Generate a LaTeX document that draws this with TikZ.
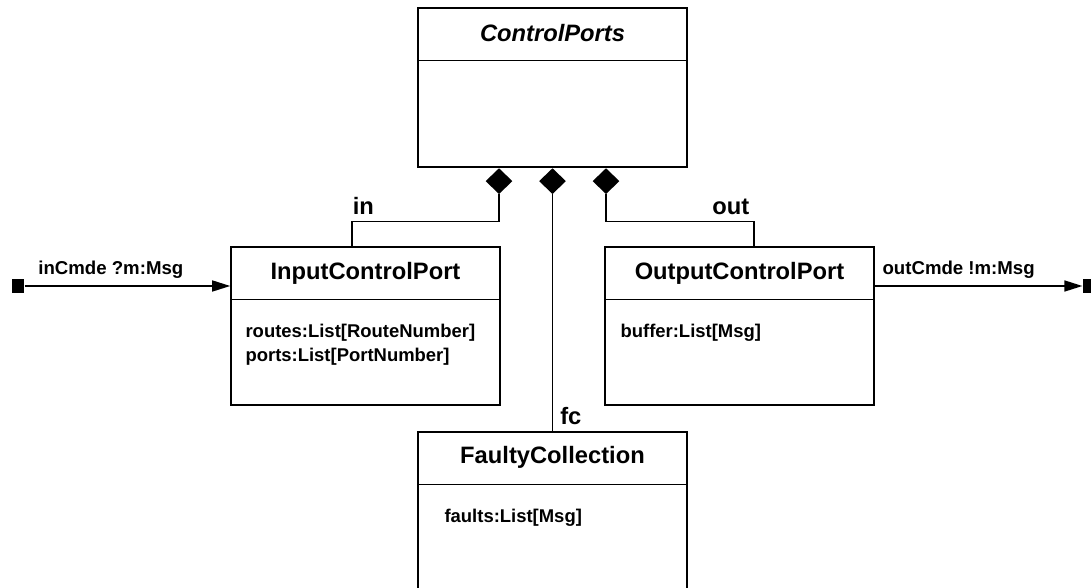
\documentclass[tikz,border=0pt]{standalone}
\usepackage{fontspec}
\setmainfont{Liberation Sans}
\usepackage{tikz}
\usetikzlibrary{arrows.meta,calc,shapes.geometric}

\begin{document}
\begin{tikzpicture}[
  cls/.style={draw, line width=0.9pt, minimum width=5.38cm, inner sep=0pt},
  ttl/.style={font=\fontsize{13.5}{16}\selectfont\bfseries, anchor=base, inner sep=0pt},
  attr/.style={font=\fontsize{10.5}{13.5}\selectfont\bfseries, align=left, anchor=north west, inner sep=0pt},
  role/.style={font=\fontsize{13.5}{16}\selectfont\bfseries, inner sep=0pt},
  msg/.style={font=\fontsize{10.6}{13}\selectfont\bfseries, inner sep=0pt},
  dmd/.style={diamond, fill=black, minimum width=0.54cm, minimum height=0.52cm, inner sep=0pt, anchor=north},
  port/.style={fill=black, minimum width=0.25cm, minimum height=0.28cm, inner sep=0pt},
  assoc/.style={line width=0.9pt},
  flow/.style={line width=0.9pt, -{Triangle[length=0.36cm, width=0.22cm]}},
]
\useasboundingbox (0,0) rectangle (21.82,-11.76);
% classes
\node[cls, minimum height=3.18cm] (cp) at (11.05,-1.75) {};
\node[cls, minimum height=3.16cm] (icp) at (7.31,-6.52) {};
\node[cls, minimum height=3.16cm] (ocp) at (14.79,-6.52) {};
\node[cls, minimum height=3.20cm] (fc) at (11.05,-10.24) {};
\foreach \b in {cp,icp,ocp,fc}
  \draw[assoc] ($(\b.north west)+(0,-1.07)$) -- ($(\b.north east)+(0,-1.07)$);
\node[ttl] (cpT) at ($(cp.north)+(0,-0.68)$) {\itshape ControlPorts};
\node[ttl] (icpT) at ($(icp.north)+(0,-0.66)$) {InputControlPort};
\node[ttl] (ocpT) at ($(ocp.north)+(0,-0.66)$) {OutputControlPort};
\node[ttl] (fcT) at ($(fc.north)+(0,-0.64)$) {FaultyCollection};
\node[attr] (icpA) at ($(icp.north west)+(0.30,-1.56)$) {routes:List[RouteNumber]\\ ports:List[PortNumber]};
\node[attr] (ocpA) at ($(ocp.north west)+(0.32,-1.56)$) {buffer:List[Msg]};
\node[attr] (fcA) at ($(fc.north west)+(0.54,-1.56)$) {faults:List[Msg]};
% composition
\node[dmd] (dIn) at ($(cp.south)+(-1.07,0)$) {};
\node[dmd] (dFc) at (cp.south) {};
\node[dmd] (dOut) at ($(cp.south)+(1.07,0)$) {};
\draw[assoc] (dIn.south) -- ++(0,-0.54) -| node[role, pos=0.5, anchor=base west, yshift=0.14cm] {in} ($(icp.north)+(-0.27,0)$);
\draw[assoc] (dOut.south) -- ++(0,-0.54) -| node[role, pos=0.5, anchor=base east, shift={(-0.08,0.14)}] {out} ($(ocp.north)+(0.29,0)$);
\draw[assoc] (dFc.south) -- (dFc.south |- fc.north) node[role, anchor=base west, shift={(0.14,0.14)}] {fc};
% ports
\node[port] (pin) at (0.36,-5.72) {};
\node[port] (pout) at (21.78,-5.72) {};
\draw[flow] (pin.east) -- node[msg, pos=0, anchor=base west, shift={(0.26,0.22)}] {inCmde ?m:Msg} (pin.east -| icp.west);
\draw[flow] (pout.west -| ocp.east) -- node[msg, pos=0, anchor=base west, shift={(0.14,0.22)}] {outCmde !m:Msg} (pout.west);
\end{tikzpicture}
\end{document}
